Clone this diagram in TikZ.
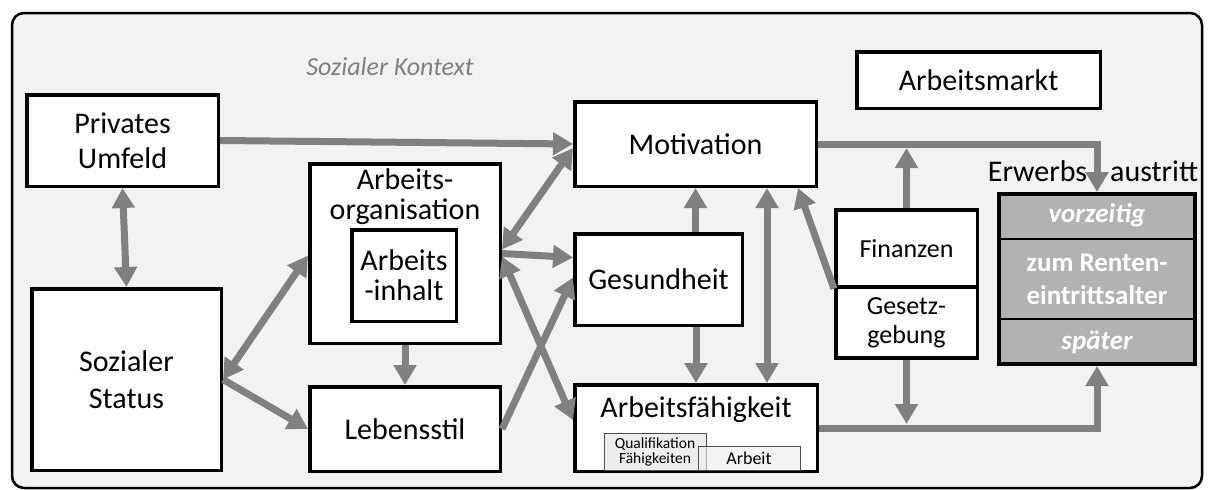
\documentclass[tikz,border=0pt]{standalone}
\usepackage{fontspec}
\setmainfont{Carlito}
\usetikzlibrary{arrows.meta}
\definecolor{ctxgray}{HTML}{F2F2F2}
\definecolor{arrowgray}{HTML}{808080}
\definecolor{exitgray}{HTML}{B2B2B2}
\definecolor{subgray}{HTML}{EDEDED}
\begin{document}
\begin{tikzpicture}[
        x=1pt, y=-1pt,
        font=\fontsize{30}{35}\selectfont
    ]
    \tikzset{
        mybox/.style = {rectangle, draw=black, line width=3.5pt, fill=white, align=center, inner sep=0pt},
        mytext/.style = {align=center, inner sep=0pt},
        exitbox/.style = {rectangle, draw=black, line width=4pt, fill=exitgray, inner sep=0pt},
        exittext/.style = {align=center, inner sep=0pt, text=white, font=\fontsize{27}{33}\selectfont\bfseries},
        subbox/.style = {rectangle, draw=black!70, line width=0.8pt, fill=subgray, align=center, inner sep=0pt},
        edgea/.style = {-{Triangle[width=22pt,length=20pt]}, line width=7pt, draw=arrowgray},
        edgeab/.style = {{Triangle[width=22pt,length=20pt]}-{Triangle[width=22pt,length=20pt]}, line width=7pt, draw=arrowgray},
    }
    \useasboundingbox (0,0) rectangle (1208,490);
    \draw[rounded corners=12pt, line width=2.5pt, fill=ctxgray] (12,13) rectangle (1202,488);
    \node[mytext, text=black!50, font=\fontsize{26}{30}\selectfont\itshape] (ctx) at (390,67) {Sozialer Kontext};
    %
    \node[mybox, minimum width=191.5pt, minimum height=91.5pt] (pu) at (122.5,140.5) {Privates\\Umfeld};
    \node[mybox, minimum width=189.5pt, minimum height=181.5pt, font=\fontsize{30}{37}\selectfont] (ss) at (126.5,379.5) {Sozialer\\Status};
    \node[mybox, minimum width=190.5pt, minimum height=179.5pt] (ao) at (405,253.5) {};
    \node[mytext, font=\fontsize{30}{30}\selectfont] (aot) at (405,197) {Arbeits-\\organisation};
    \node[mybox, minimum width=104.5pt, minimum height=91.5pt, font=\fontsize{30}{30}\selectfont] (ai) at (404,275.5) {Arbeits\\-inhalt};
    \node[mybox, minimum width=190.5pt, minimum height=84.5pt] (ls) at (405,429) {Lebensstil};
    %
    \node[mybox, minimum width=241.5pt, minimum height=84.5pt] (mo) at (695.5,144) {Motivation};
    \node[mybox, minimum width=167.5pt, minimum height=91.5pt] (ge) at (658.5,279.5) {Gesundheit};
    \node[mybox, minimum width=242.5pt, minimum height=86.5pt] (af) at (696,428) {};
    \node[mytext] (aft) at (696,410) {Arbeitsfähigkeit};
    \node[subbox, minimum width=102pt, minimum height=37pt, font=\fontsize{15.5}{15}\selectfont] (qf) at (655,451.5) {Qualifikation\\Fähigkeiten};
    \node[subbox, minimum width=102pt, minimum height=24pt, fill opacity=0.6, text opacity=1, font=\fontsize{18}{20}\selectfont] (ar) at (749,458) {Arbeit};
    %
    \node[mybox, minimum width=243.5pt, minimum height=56.5pt] (am) at (978.5,80) {Arbeitsmarkt};
    \node[mybox, minimum width=141.5pt, minimum height=77.25pt, font=\fontsize{26}{29}\selectfont] (fi) at (906.5,248.4) {Finanzen};
    \node[mybox, minimum width=141.5pt, minimum height=71.25pt, font=\fontsize{26}{29}\selectfont] (gg) at (906.5,322.6) {Gesetz-\\gebung};
    %
    \node[mytext] (eat) at (1093,171.5) {Erwerbs\hspace{23pt}austritt};
    \node[exitbox, minimum width=196pt, minimum height=170pt] (ea) at (1097,279) {};
    \draw[line width=1.5pt] (ea.west |- 0,239) -- (ea.east |- 0,239);
    \draw[line width=1.5pt] (ea.west |- 0,319) -- (ea.east |- 0,319);
    \node[exittext, font=\fontsize{27}{33}\selectfont\bfseries\itshape] (vz) at (1097,215.5) {vorzeitig};
    \node[exittext] (zr) at (1097,279) {zum Renten-\\eintrittsalter};
    \node[exittext, font=\fontsize{27}{33}\selectfont\bfseries\itshape] (sp) at (1097,342.5) {später};
    %
    \coordinate (k) at (767,0);
    \draw[edgea] (pu.east) -- (mo.west);
    \draw[edgeab] (pu.south) -- (ss.north);
    \draw[edgeab] (ss.east) -- ([yshift=-2pt]ao.west);
    \draw[edgea] (ss.east) -- (ls.west);
    \draw[edgea] (ao.south) -- (ls.north);
    %
    \draw[edgeab] ([yshift=4pt]ao.east) -- ([yshift=-4pt]mo.west);
    \draw[edgea] (ao.east) -- ([yshift=22pt]ge.west);
    \draw[edgeab] ([yshift=-3pt]ao.east) -- ([yshift=8pt]af.west);
    \draw[edgea] (ls.east) -- ([yshift=2pt]ge.west);
    %
    \draw[edgea] (ge.north -| mo.south) -- (mo.south);
    \draw[edgea] (ge.south -| af.north) -- (af.north);
    \draw[edgeab] (k |- mo.south) -- (k |- af.north);
    \draw[edgea] (fi.south west) -- ([xshift=-20pt]mo.south east);
    \draw[edgea, shorten >=4pt] (fi.north) -- (fi.north |- mo.east);
    \draw[edgea, shorten >=4pt] (gg.south) -- (gg.south |- af.east);
    %
    \draw[edgea] (mo.east) -| (ea.north);
    \draw[edgea] (af.east) -| (ea.south);
\end{tikzpicture}
\end{document}
